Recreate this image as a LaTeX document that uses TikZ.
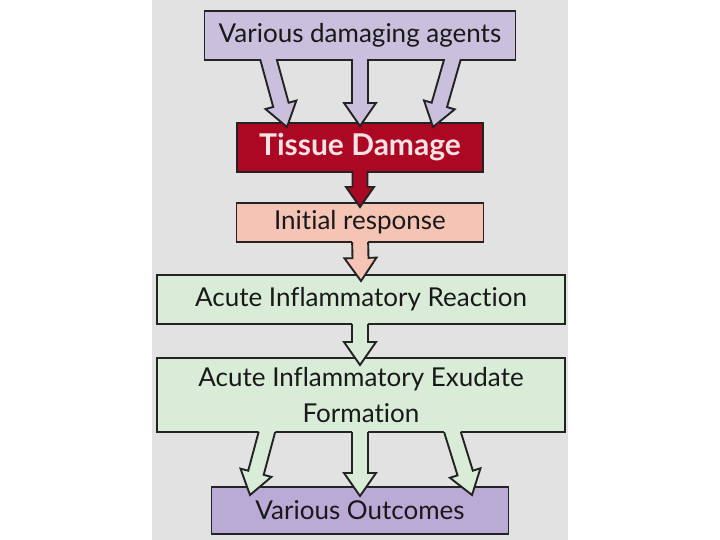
\documentclass[tikz,border=0pt]{standalone}
\usepackage{fontspec}
\setmainfont{Lato}[Ligatures=NoCommon]
\usetikzlibrary{calc}
\definecolor{bggray}{RGB}{226,226,226}
\definecolor{edge}{RGB}{35,35,35}
\definecolor{lav}{RGB}{202,192,222}
\definecolor{dred}{RGB}{172,8,36}
\definecolor{redtext}{RGB}{248,226,228}
\definecolor{salmon}{RGB}{246,196,180}
\definecolor{lgreen}{RGB}{216,236,216}
\definecolor{purp}{RGB}{186,170,214}
\definecolor{txt}{RGB}{25,25,25}
\def\sw{8pt}\def\hw{16pt}\def\hl{23pt}
\newcommand\barrow[4]{%
  \coordinate (bS) at #2;
  \coordinate (bT) at #3;
  \coordinate (bB) at ($(bT)!\hl!(bS)$);
  \coordinate (bS1) at ($(bS)!\sw!90:(bT)$);
  \coordinate (bS2) at ($(bS)!\sw!-90:(bT)$);
  \coordinate (bB1) at ($(bB)!\sw!90:(bT)$);
  \coordinate (bB2) at ($(bB)!\sw!-90:(bT)$);
  \coordinate (bH1) at ($(bB)!\hw!90:(bT)$);
  \coordinate (bH2) at ($(bB)!\hw!-90:(bT)$);
  \fill[#4] (bS1) -- (bB1) -- (bH1) -- (bT) -- (bH2) -- (bB2) -- (bS2) -- cycle;
  \begin{scope}
    \clip ($(#1.south west)+(-150,0)$) rectangle ($(#1.south east)+(150,300)$);
    \draw[arrowline] (bS1) -- (bB1) -- (bH1) -- (bT) -- (bH2) -- (bB2) -- (bS2);
  \end{scope}
}
\begin{document}
\begin{tikzpicture}[x=1pt,y=-1pt,
  box/.style={draw=edge, line width=1.9pt, inner sep=0pt, outer sep=0pt,
    align=center, text=txt, font=\fontsize{26}{36}\selectfont},
  arrowline/.style={draw=edge, line width=1.9pt, line join=miter}]
\useasboundingbox (0,0) rectangle (720,540);
\fill[white] (0,0) rectangle (720,540);
\fill[bggray] (152,0) rectangle (568,540);
\node[box, fill=lav, minimum width=311pt, minimum height=49pt] (agents) at (360,35.5) {Various damaging agents};
\node[box, fill=dred, text=redtext, font=\fontsize{30}{36}\selectfont\bfseries, minimum width=246pt, minimum height=49pt] (tissue) at (360,147.5) {Tissue Damage};
\node[box, fill=salmon, minimum width=247pt, minimum height=39pt] (initial) at (360,222.5) {Initial response};
\node[box, fill=lgreen, minimum width=408pt, minimum height=49pt] (reaction) at (361,299.5) {Acute Inflammatory Reaction};
\node[box, fill=lgreen, minimum width=408pt, minimum height=74pt] (exudate) at (361,395) {Acute Inflammatory Exudate\\Formation};
\node[box, fill=purp, minimum width=297pt, minimum height=47pt] (outcomes) at (360,510.5) {Various Outcomes};
% arrows
\barrow{agents}{($(agents.south)+(-93,-6)$)}{($(tissue.north)+(-73,4)$)}{lav}
\barrow{agents}{($(agents.south)+(0,-6)$)}{($(tissue.north)+(0,3)$)}{lav}
\barrow{agents}{($(agents.south)+(94,-6)$)}{($(tissue.north)+(73,4)$)}{lav}
\def\sw{7.5pt}\def\hw{14pt}\def\hl{20pt}
\barrow{tissue}{($(tissue.south)+(0,-6)$)}{($(initial.north)+(0,4)$)}{dred}
\def\sw{8pt}\def\hw{16pt}\def\hl{23pt}
\barrow{initial}{($(initial.south)+(0,-6)$)}{($(reaction.north)+(0,6)$)}{salmon}
\barrow{reaction}{($(reaction.south)+(-1,-6)$)}{($(exudate.north)+(-1,7)$)}{lgreen}
\barrow{exudate}{($(exudate.south)+(-92.5,-6)$)}{($(outcomes.north)+(-110,8)$)}{lgreen}
\barrow{exudate}{($(exudate.south)+(-1,-6)$)}{($(outcomes.north)+(0,9)$)}{lgreen}
\barrow{exudate}{($(exudate.south)+(89.6,-6)$)}{($(outcomes.north)+(112,8)$)}{lgreen}
\end{tikzpicture}
\end{document}
